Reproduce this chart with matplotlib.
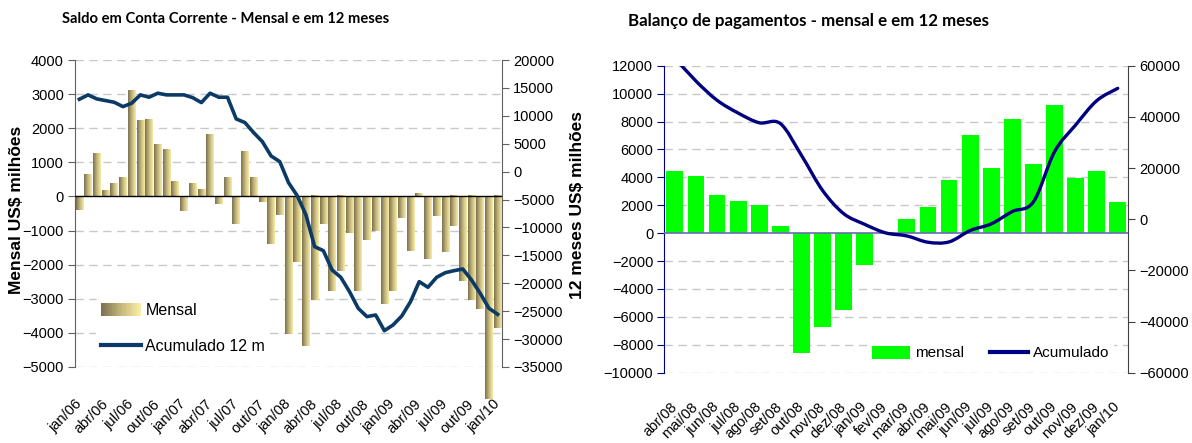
import numpy as np
import matplotlib
matplotlib.use("Agg")
import matplotlib.pyplot as plt
from matplotlib import font_manager
from matplotlib.colors import LinearSegmentedColormap
from matplotlib.patches import Rectangle, PathPatch
from matplotlib.path import Path
from matplotlib.lines import Line2D
from matplotlib.legend_handler import HandlerBase

# ---- data: left chart (Saldo em Conta Corrente), jan/06 .. jan/10 ----
cc_ticklabels = ["jan/06", "abr/06", "jul/06", "out/06", "jan/07", "abr/07", "jul/07",
                 "out/07", "jan/08", "abr/08", "jul/08", "out/08", "jan/09", "abr/09",
                 "jul/09", "out/09", "jan/10"]
cc_mensal = [-400, 620, 1260, 170, 370, 550, 3080, 2200, 2250, 1520, 1370, 430,
             -420, 370, 200, 1810, -210, 550, -800, 1310, 550, -150, -1400, -530,
             -4040, -1920, -4380, -3050, -820, -2770, -2200, -1080, -2770, -1270, -1000, -3160,
             -2770, -640, -1590, 70, -1820, -580, -1640, -880, -2470, -3050, -3290, -5950,
             -3870]
cc_acum = [12970, 13750, 13030, 12730, 12430, 11650, 12250, 13750, 13330, 14050, 13750, 13750,
           13750, 13260, 12370, 14050, 13330, 13330, 9440, 8790, 6990, 5380, 2810, 1790,
           -1970, -4300, -7760, -13440, -14160, -17620, -18930, -21500, -24480, -25980, -25680, -28490,
           -27470, -25860, -23300, -19710, -20720, -18930, -18100, -17740, -17440, -19410, -21800, -24480,
           -25560]

# ---- data: right chart (Balanço de pagamentos), abr/08 .. jan/10 ----
bp_meses = ["abr/08", "mai/08", "jun/08", "jul/08", "ago/08", "set/08", "out/08", "nov/08",
            "dez/08", "jan/09", "fev/09", "mar/09", "abr/09", "mai/09", "jun/09", "jul/09",
            "ago/09", "set/09", "out/09", "nov/09", "dez/09", "jan/10"]
bp_mensal = [4480, 4120, 2720, 2340, 2000, 480, -8570, -6710, -5500, -2290, 100, 980,
             1860, 3840, 7050, 4690, 8190, 4980, 9190, 3980, 4480, 2260]
bp_acum = [63000, 54000, 46500, 41500, 37700, 37400, 25000, 11300, 2200, -2000, -5360, -6530,
           -9000, -8880, -4440, -1830, 3000, 6780, 26340, 36800, 46300, 51150]

# ---- fonts ----
names = {f.name for f in font_manager.fontManager.ttflist}
if "Liberation Sans Narrow" in names:
    tick_font = ["Liberation Sans Narrow", "DejaVu Sans"]
    tick_size = 12.5
else:
    tick_font = ["Liberation Sans", "DejaVu Sans"]
    tick_size = 10.5
title_font = ["Lato", "DejaVu Sans"]

plt.rcParams["font.family"] = tick_font

W, H = 1192, 443
fig = plt.figure(figsize=(W / 100, H / 100), dpi=100)


def fx(px):
    return px / W


def fy(py):
    return 1 - py / H


gold = LinearSegmentedColormap.from_list("gold", ["#7a7050", "#c4b57a", "#f8eda5"])


class GradientHandler(HandlerBase):
    def create_artists(self, legend, orig_handle, xdescent, ydescent, width, height, fontsize, trans):
        n = 24
        arts = []
        for k in range(n):
            r = Rectangle((-xdescent + k * width / n, -ydescent), width / n * 1.1, height,
                          facecolor=gold(k / (n - 1)), edgecolor="none", transform=trans)
            arts.append(r)
        return arts


def smooth_path(xs, ys):
    # Excel-like smoothed line: Catmull-Rom segments turned into cubic Beziers
    p = np.column_stack([xs, ys]).astype(float)
    ext = np.vstack([p[0], p, p[-1]])
    verts = [p[0]]
    codes = [Path.MOVETO]
    for i in range(len(p) - 1):
        p0, p1, p2, p3 = ext[i], ext[i + 1], ext[i + 2], ext[i + 3]
        c1 = p1 + (p2 - p0) / 6
        c2 = p2 - (p3 - p1) / 6
        verts += [c1, c2, p2]
        codes += [Path.CURVE4] * 3
    return Path(verts, codes)


# =================== left chart ===================
axl = fig.add_axes([fx(75), fy(367), fx(502 - 75), (367 - 60) / H])
axl2 = axl.twinx()

x_cc = np.arange(len(cc_mensal))
bars = axl.bar(x_cc, cc_mensal, width=0.86, facecolor="none", linewidth=0, clip_on=False, zorder=2)
grad = np.linspace(0, 1, 64).reshape(1, -1)
for b in bars:
    x0, y0 = b.get_xy()
    w, h = b.get_width(), b.get_height()
    im = axl.imshow(grad, cmap=gold, extent=(x0, x0 + w, min(y0, y0 + h), max(y0, y0 + h)),
                    aspect="auto", origin="lower", interpolation="bilinear", zorder=2)
    im.set_clip_path(b)
    im.set_clip_box(fig.bbox)

# accumulated line drawn on the right scale, above the bars
axl2.plot(x_cc, cc_acum, color="#0b3a66", lw=2.6, solid_joinstyle="round", zorder=3)

axl.set_xlim(-0.5, len(cc_mensal) - 0.5)
axl.set_ylim(-5000, 4000)
axl2.set_ylim(-35000, 20000)
yt = np.arange(-5000, 4001, 1000)
axl.set_yticks(yt)
axl2.set_yticks(np.arange(-35000, 20001, 5000))
for t in yt:
    if t != 0:
        axl.axhline(t, color="#c8c8c8", lw=1, ls=(0, (6, 4)), zorder=0)
axl.axhline(0, color="black", lw=1, zorder=3)

axl.set_xticks(x_cc[::3])
axl.set_xticklabels(cc_ticklabels, rotation=45, ha="right", va="center",
                    rotation_mode="anchor", fontsize=tick_size)
axl.tick_params(axis="x", length=0, pad=25)
axl.tick_params(axis="y", direction="out", length=5, color="#606060", labelsize=tick_size, pad=3)
axl2.tick_params(axis="y", direction="out", length=5, color="#606060", labelsize=tick_size, pad=3)
for s in ["top", "bottom", "right"]:
    axl.spines[s].set_visible(False)
for s in ["top", "bottom", "left"]:
    axl2.spines[s].set_visible(False)
axl.spines["left"].set_color("#606060")
axl2.spines["right"].set_color("#606060")
axl2.tick_params(axis="x", length=0, labelbottom=False)

leg = axl2.legend([Rectangle((0, 0), 1, 1), Line2D([], [], color="#0b3a66", lw=3)],
                  ["Mensal", "Acumulado 12 m"],
                  handler_map={Rectangle: GradientHandler()},
                  loc="lower left", bbox_to_anchor=(0.03, 0.0), frameon=True,
                  fontsize=tick_size + 1, handlelength=2.5, handleheight=0.9,
                  labelspacing=1.3, handletextpad=0.3, borderpad=0.3)
leg.get_frame().set_facecolor("white")
leg.get_frame().set_edgecolor("none")
leg.get_frame().set_alpha(1)

fig.text(fx(62), fy(19), "Saldo em Conta Corrente - Mensal e em 12 meses",
         family=title_font, fontweight="bold", fontsize=10.6, ha="left", va="center")
fig.text(fx(17), fy(210), "Mensal US$ milhões", family=["Liberation Sans", "DejaVu Sans"],
         fontweight="bold", fontsize=12.5, rotation=90, ha="center", va="center")
fig.text(fx(578), fy(205), "12 meses US$ milhões", family=["Liberation Sans", "DejaVu Sans"],
         fontweight="bold", fontsize=12.5, rotation=90, ha="center", va="center")

# =================== right chart ===================
axr = fig.add_axes([fx(664.3), fy(372.7), fx(1128.3 - 664.3), (372.7 - 65.7) / H])
axr2 = axr.twinx()
axr2.set_zorder(axr.get_zorder() + 1)
axr2.patch.set_visible(False)

x_bp = np.arange(len(bp_mensal))
axr.bar(x_bp, bp_mensal, width=0.8, color="#00ff00", zorder=2)
axr.set_xlim(-0.5, len(bp_mensal) - 0.5)
axr.set_ylim(-10000, 12000)
yt_r = np.arange(-10000, 12001, 2000)
axr.set_yticks(yt_r)
for t in yt_r:
    if t != 0:
        axr.axhline(t, color="#c8c8c8", lw=1, ls=(0, (6, 4)), zorder=0)
axr.axhline(0, color="#6b6bb8", lw=1.2, zorder=3)

axr2.set_ylim(-60000, 60000)
axr2.set_yticks(np.arange(-60000, 60001, 20000))
axr2.add_patch(PathPatch(smooth_path(x_bp, bp_acum), facecolor="none", edgecolor="#000080",
                         lw=2.4, capstyle="round", joinstyle="round", zorder=3))

axr.set_xticks(x_bp)
axr.set_xticklabels(bp_meses, rotation=45, ha="right", va="center",
                    rotation_mode="anchor", fontsize=tick_size)
axr.tick_params(axis="x", length=0, pad=23)
axr.tick_params(axis="y", direction="out", length=5, color="#000080", labelsize=tick_size, pad=3)
axr2.tick_params(axis="y", direction="out", length=5, color="#404040", labelsize=tick_size, pad=3)
for s in ["top", "bottom", "right"]:
    axr.spines[s].set_visible(False)
for s in ["top", "bottom", "left"]:
    axr2.spines[s].set_visible(False)
axr.spines["left"].set_color("#000080")
axr2.spines["right"].set_color("#404040")

leg2 = axr2.legend([Rectangle((0, 0), 1, 1, facecolor="#00ff00"),
                    Line2D([], [], color="#000080", lw=3)],
                   ["mensal", "Acumulado"], ncol=2, loc="lower right",
                   bbox_to_anchor=(0.985, 0.0), frameon=True, fontsize=tick_size + 0.5,
                   handlelength=2.5, handleheight=0.9, handletextpad=0.3,
                   columnspacing=1.7, borderpad=0.3)
leg2.get_frame().set_facecolor("white")
leg2.get_frame().set_edgecolor("none")
leg2.get_frame().set_alpha(1)

fig.text(fx(628), fy(21), "Balanço de pagamentos - mensal e em 12 meses",
         family=title_font, fontweight="bold", fontsize=12.2, ha="left", va="center")

fig.savefig("out.png", dpi=100)
